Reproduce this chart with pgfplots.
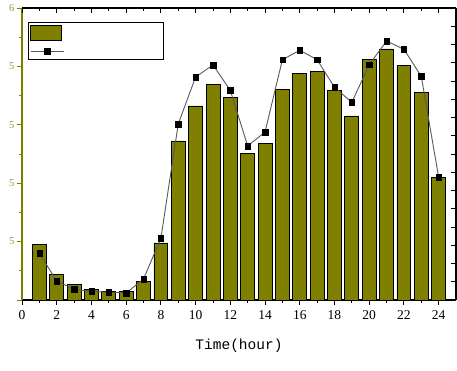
\documentclass[border=0pt]{standalone}
\usepackage{pgfplots}
\pgfplotsset{compat=1.18}
\usepackage{fontspec}
\setmainfont{Liberation Serif}
\newfontfamily\monofont{Liberation Mono}
\definecolor{olivebar}{HTML}{808000}
\definecolor{olivetick}{HTML}{9A9A3A}
\begin{document}
\begin{tikzpicture}
\begin{axis}[name=main,
  scale only axis, width=434pt, height=292pt,
  xmin=0, xmax=25, ymin=0, ymax=5,
  axis x line*=bottom, axis y line*=left,
  axis line style={-},
  x axis line style={black, line width=1.2pt},
  y axis line style={olivebar, line width=1.2pt},
  tick align=outside,
  xtick={0,2,...,24}, minor xtick={1,3,...,23},
  xticklabels={0,2,4,6,8,10,12,14,16,18,20,22,24},
  ytick={0,1,2,3,4,5}, minor ytick={0.5,1.5,2.5,3.5,4.5},
  yticklabels={,5,5,5,5,6},
  major tick length=5pt, minor tick length=3pt,
  x tick style={black, line width=0.9pt},
  y tick style={olivebar, line width=0.9pt},
  xticklabel style={font=\fontsize{13.5}{13.5}\selectfont, yshift=-2pt},
  yticklabel style={font=\fontsize{10.5}{10.5}\selectfont, text=olivetick, xshift=1pt},
  xlabel={\monofont\fontsize{14.5}{14.5}\selectfont Time(hour)},
  xlabel style={yshift=-12pt},
  legend style={at={(rel axis cs:0.0138,0.952)}, anchor=north west,
    draw=black, line width=0.9pt, inner xsep=2pt, inner ysep=3pt,
    row sep=5pt,
    nodes={text width=95pt, inner sep=1pt, font=\fontsize{10}{10}\selectfont}},
]
\addplot[ybar, bar width=0.8, fill=olivebar, draw=black, line width=0.8pt,
  legend image code/.code={\draw[fill=olivebar, draw=black, line width=0.8pt] (0pt,-7.5pt) rectangle (31pt,7.5pt);}]
  coordinates {
(1,0.954) (2,0.445) (3,0.269) (4,0.188) (5,0.154) (6,0.149) (7,0.325) (8,0.976)
(9,2.723) (10,3.322) (11,3.687) (12,3.464) (13,2.512) (14,2.683) (15,3.608) (16,3.875)
(17,3.921) (18,3.591) (19,3.151) (20,4.122) (21,4.298) (22,4.012) (23,3.556) (24,2.101)
};
\addlegendentry{\strut}
\addplot[color=black!65, line width=0.9pt, mark=square*,
  mark options={fill=black, draw=black, solid, line width=0.3pt}, mark size=2.7pt,
  legend image code/.code={\draw[color=black!65, line width=0.9pt] (0pt,0pt) -- (33pt,0pt);
    \fill[black] (13.8pt,-2.7pt) rectangle (19.2pt,2.7pt);}]
  coordinates {
(1,0.80) (2,0.325) (3,0.183) (4,0.149) (5,0.132) (6,0.12) (7,0.36) (8,1.056)
(9,3.014) (10,3.818) (11,4.024) (12,3.591) (13,2.637) (14,2.877) (15,4.115) (16,4.276)
(17,4.115) (18,3.642) (19,3.385) (20,4.029) (21,4.435) (22,4.293) (23,3.830) (24,2.101)
};
\addlegendentry{\strut}
\end{axis}
\begin{axis}[
  scale only axis, width=434pt, height=292pt,
  xmin=0, xmax=25, ymin=0, ymax=5,
  axis x line*=top, axis y line*=right,
  axis line style={-, black, line width=1.2pt},
  tick align=inside,
  xtick={0,2,...,24}, minor xtick={1,3,...,23},
  ytick={0,0.3125,...,5.01},
  xticklabels={}, yticklabels={},
  major tick length=5pt, minor tick length=3pt,
  tick style={black, line width=0.9pt},
]
\end{axis}
\path (main.south west) ++(-22pt,-71pt) coordinate (A);
\path (main.north east) ++(1pt,8pt) coordinate (B);
\pgfresetboundingbox
\path[use as bounding box] (A) rectangle (B);
\end{tikzpicture}
\end{document}
